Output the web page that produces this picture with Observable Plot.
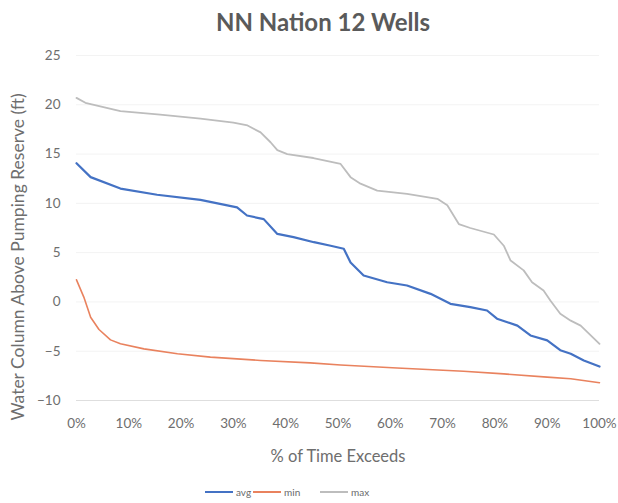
<!DOCTYPE html>
<html>
<head>
<meta charset="utf-8">
<script src="https://cdn.jsdelivr.net/npm/d3@7"></script>
<script src="https://cdn.jsdelivr.net/npm/@observablehq/plot@0.6"></script>
<style>
  html, body { margin: 0; padding: 0; background: #fff; }
  body { width: 618px; height: 503px; overflow: hidden; font-family: Lato, "Open Sans", sans-serif; }
  #title { height: 40px; line-height: 44px; text-align: center; font-weight: bold; font-size: 24px; color: #5a5a5a; padding-left: 28px; }
  #legend { position: relative; height: 33px; font-size: 10px; color: #6a6a6a; }
  .item { position: absolute; top: 16px; display: flex; align-items: center; gap: 3px; }
  .sw { width: 28px; height: 2.5px; display: inline-block; }
</style>
</head>
<body>
<div id="title">NN Nation 12 Wells</div>
<div id="chart"></div>
<div id="legend"></div>
<script>
const seriesNames = ["avg", "min", "max"];
const seriesColors = ["#4472C4", "#E9825E", "#BDBDBD"];

const maxPct = [0, 1.7, 8.4, 16, 23.7, 30, 32.7, 35.2, 37.1, 38.4, 40.3, 45.3, 50.5, 52.4, 54.3, 57.5, 63.2, 69, 70.9, 73.1, 75.3, 79.8, 81.7, 83, 85.5, 87.1, 89.3, 90.6, 92.5, 94.5, 96.4, 100];
const maxVal = [20.7, 20.2, 19.35, 19.0, 18.6, 18.2, 17.9, 17.2, 16.2, 15.4, 15.0, 14.6, 14.0, 12.66, 12.0, 11.3, 10.97, 10.46, 9.8, 7.9, 7.5, 6.84, 5.7, 4.2, 3.2, 2.0, 1.16, 0.14, -1.2, -1.9, -2.4, -4.25];

const avgPct = [0, 2.7, 8.4, 15.4, 23.7, 30.7, 32.6, 35.8, 38.4, 41.5, 45.4, 48.6, 51.1, 52.4, 54.9, 59.4, 63.2, 67.7, 71.5, 75.3, 78.5, 80.4, 84.3, 86.8, 90, 92.5, 94.5, 97, 100];
const avgVal = [14.07, 12.66, 11.5, 10.87, 10.36, 9.6, 8.77, 8.4, 6.9, 6.57, 6.06, 5.7, 5.39, 4.0, 2.68, 2.0, 1.67, 0.82, -0.19, -0.53, -0.87, -1.7, -2.4, -3.4, -3.9, -4.9, -5.26, -5.94, -6.55];

const minPct = [0, 1.4, 2.7, 4.3, 6.5, 8.4, 12.9, 19.3, 25.6, 35.2, 44.7, 50.5, 61.3, 74, 81.7, 90, 94.5, 100];
const minVal = [2.24, 0.49, -1.55, -2.8, -3.85, -4.25, -4.76, -5.26, -5.6, -5.94, -6.18, -6.4, -6.7, -7.03, -7.3, -7.63, -7.8, -8.2];

const yTicks = [-10, -5, 0, 5, 10, 15, 20, 25];
const xTicks = [0, 10, 20, 30, 40, 50, 60, 70, 80, 90, 100];

const toRows = (name, xs, ys) => xs.map((x, i) => ({series: name, pct: x, value: ys[i]}));
const rows = [
  ...toRows("avg", avgPct, avgVal),
  ...toRows("min", minPct, minVal),
  ...toRows("max", maxPct, maxVal)
];

const txt = "#6e6e6e";
const chart = Plot.plot({
  width: 618,
  height: 430,
  marginLeft: 76,
  marginRight: 19,
  marginTop: 15,
  marginBottom: 70,
  style: {fontFamily: "Lato, 'Open Sans', sans-serif", fontSize: "13.5px", color: txt, background: "#fff", overflow: "visible"},
  x: {domain: [0, 100]},
  y: {domain: [-10, 25]},
  color: {domain: seriesNames, range: seriesColors},
  marks: [
    Plot.gridY(yTicks.filter(d => d > -10), {stroke: "#f3f3f3", strokeOpacity: 1}),
    Plot.ruleY([-10], {stroke: "#dedede", strokeWidth: 1}),
    Plot.axisX({ticks: xTicks, tickFormat: d => d + "%", tickSize: 0, tickPadding: 18, label: null, fill: txt}),
    Plot.axisY({ticks: yTicks, tickSize: 0, tickPadding: 16, label: null, fill: txt}),
    Plot.text(["% of Time Exceeds"], {frameAnchor: "bottom", dy: 61, fontSize: 16.5, fill: txt}),
    Plot.text(["Water Column Above Pumping Reserve (ft)"], {frameAnchor: "left", textAnchor: "middle", dx: -58, dy: 29, rotate: -90, fontSize: 17.5, fill: txt}),
    Plot.line(rows.filter(d => d.series === "min"), {x: "pct", y: "value", stroke: "series", strokeWidth: 1.6, curve: "linear"}),
    Plot.line(rows.filter(d => d.series === "max"), {x: "pct", y: "value", stroke: "series", strokeWidth: 1.8, curve: "linear"}),
    Plot.line(rows.filter(d => d.series === "avg"), {x: "pct", y: "value", stroke: "series", strokeWidth: 2.2, curve: "linear"})
  ]
});
document.getElementById("chart").appendChild(chart);

const legend = document.getElementById("legend");
const lefts = [205, 253, 320];
seriesNames.forEach((n, i) => {
  const it = document.createElement("div");
  it.className = "item";
  it.style.left = lefts[i] + "px";
  const sw = document.createElement("span");
  sw.className = "sw";
  sw.style.background = seriesColors[i];
  const tx = document.createElement("span");
  tx.textContent = n;
  it.appendChild(sw);
  it.appendChild(tx);
  legend.appendChild(it);
});
</script>
</body>
</html>
